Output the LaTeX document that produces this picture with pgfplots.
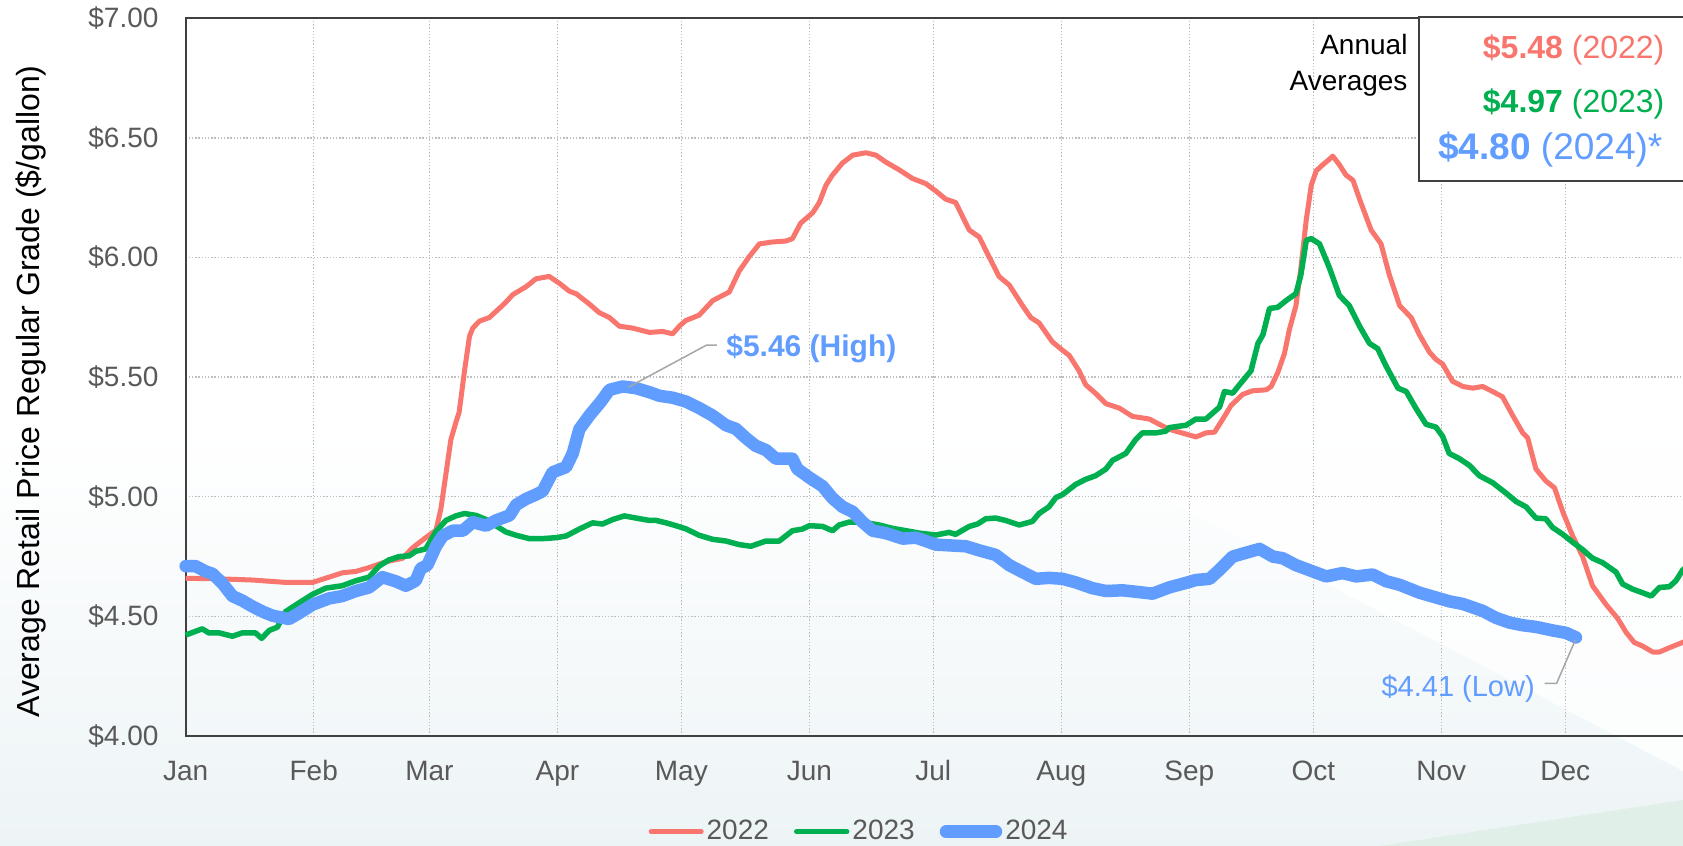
\documentclass[border=0pt]{standalone}
\usepackage{fontspec}
\setmainfont{Liberation Sans}
\usepackage{pgfplots}
\pgfplotsset{compat=1.18}
\definecolor{c22}{HTML}{F8766D}
\definecolor{c23}{HTML}{00B050}
\definecolor{c24}{HTML}{619CFF}
\definecolor{tickgray}{HTML}{595959}
\definecolor{axisgray}{HTML}{404040}
\definecolor{gridgray}{HTML}{BFBFBF}
\definecolor{leadgray}{HTML}{A6A6A6}
\definecolor{bgbot}{HTML}{EDF4F6}
\definecolor{bggreen}{HTML}{E0EFE8}
\begin{document}
\begin{tikzpicture}
\useasboundingbox (0,0) rectangle (841.5pt,423pt);
% background
\fill[white] (0,0) rectangle (841.5pt,423pt);
\shade[top color=white, bottom color=bgbot] (0,0) rectangle (841.5pt,208pt);
\fill[white, opacity=0.8] (550pt,190.5pt) -- (841.5pt,37.5pt) -- (841.5pt,213pt) -- (550pt,213pt) -- cycle;
\fill[bggreen] (690pt,0pt) -- (841.5pt,23pt) -- (841.5pt,0pt) -- cycle;
\begin{axis}[
  at={(92.85pt,55pt)}, anchor=south west,
  scale only axis, width=753.8pt, height=358.85pt,
  xmin=0, xmax=365, ymin=4, ymax=7,
  clip=false,
  axis line style={draw=axisgray, line width=1pt},
  major tick length=0pt,
  grid=major,
  grid style={draw=gridgray, line width=0.7pt, dash pattern=on 0.7pt off 0.9pt},
  xtick={0,31,59,90,120,151,181,212,243,273,304,334},
  xticklabels={Jan,Feb,Mar,Apr,May,Jun,Jul,Aug,Sep,Oct,Nov,Dec},
  ytick={4,4.5,5,5.5,6,6.5,7},
  yticklabels={\$4.00,\$4.50,\$5.00,\$5.50,\$6.00,\$6.50,\$7.00},
  tick label style={font=\fontsize{14}{16}\selectfont, text=tickgray, inner sep=0pt},
  xticklabel style={anchor=base, yshift=-22.35pt},
  yticklabel style={anchor=east, xshift=-13.4pt},
  every axis y label/.style={at={(axis description cs:-0.1026,0.48)}, rotate=90, anchor=center, font=\fontsize{16}{18}\selectfont},
  ylabel={Average Retail Price Regular Grade (\$/gallon)},
  legend columns=3,
  legend style={at={(axis description cs:0.447,-0.1333)}, anchor=center, draw=none, fill=none,
    font=\fontsize{14}{16}\selectfont, text=tickgray, inner sep=0pt,
    nodes={inner sep=1.5pt},
    /tikz/every even column/.append style={column sep=11pt}},
  legend cell align=left,
  legend image code/.code={\draw[line cap=round] (1pt,0pt) -- (26pt,0pt);},
]
\addplot[c22, line width=2.5pt, line join=round] coordinates {
(0,4.659)(8.1,4.657)(16.1,4.652)(24.2,4.642)(30.7,4.642)(34.7,4.664)(37.9,4.682)(41.2,4.688)(44.4,4.704)(48.4,4.728)(52.5,4.743)(54.9,4.786)(58.1,4.829)(60.6,4.86)(61.8,4.951)(63.0,5.095)(64.2,5.239)(65.4,5.310)(66.2,5.353)(67.5,5.526)(68.7,5.670)(69.5,5.705)(71.1,5.734)(73.5,5.749)(75.9,5.787)(77.5,5.813)(79.2,5.845)(82.4,5.878)(84.8,5.911)(88.0,5.921)(90.5,5.892)(92.9,5.859)(94.5,5.849)(97.7,5.806)(100.1,5.770)(102.6,5.749)(105.0,5.713)(108.2,5.705)(112.3,5.687)(115.5,5.691)(117.9,5.681)(119.5,5.713)(121.1,5.737)(124.3,5.759)(127.6,5.820)(131.6,5.856)(134.0,5.943)(136.4,6.003)(138.9,6.057)(142.1,6.065)(145.3,6.069)(146.9,6.079)(148.9,6.144)(151.8,6.187)(153.4,6.230)(155.0,6.302)(156.6,6.345)(159.0,6.395)(161.5,6.428)(164.7,6.438)(167.1,6.428)(169.5,6.399)(172.8,6.366)(176.0,6.330)(179.2,6.309)(181.6,6.278)(184.0,6.244)(186.4,6.230)(189.7,6.115)(192.1,6.086)(194.5,6.003)(196.9,5.921)(199.4,5.885)(202.6,5.799)(204.6,5.749)(206.6,5.727)(209.8,5.648)(212.3,5.612)(213.9,5.591)(216.3,5.526)(217.9,5.468)(220.3,5.432)(222.8,5.389)(226.0,5.371)(229.2,5.336)(233.3,5.325)(235.7,5.303)(238.1,5.282)(242.2,5.262)(244.6,5.250)(247.0,5.267)(249.1,5.270)(251.1,5.325)(253.1,5.382)(255.9,5.428)(258.3,5.443)(261.6,5.447)(262.8,5.461)(264.4,5.519)(266.0,5.598)(267.2,5.698)(268.8,5.799)(270.0,5.957)(271.3,6.158)(272.5,6.302)(273.7,6.362)(275.3,6.388)(276.5,6.405)(277.7,6.424)(279.3,6.388)(280.9,6.345)(282.6,6.323)(284.2,6.244)(287.0,6.115)(289.4,6.057)(291.4,5.928)(293.9,5.799)(296.7,5.749)(298.7,5.677)(301.1,5.605)(302.7,5.574)(304.3,5.555)(306.7,5.483)(309.2,5.461)(311.6,5.454)(314.0,5.461)(316.4,5.440)(318.8,5.418)(321.3,5.339)(323.7,5.267)(324.9,5.246)(326.9,5.116)(329.3,5.066)(331.4,5.037)(333.4,4.937)(335.8,4.836)(338.2,4.750)(340.6,4.628)(343.9,4.549)(346.7,4.491)(348.7,4.434)(350.7,4.391)(352.7,4.376)(355.2,4.351)(356.8,4.351)(359.2,4.369)(362.4,4.391)(365,4.41)
};
\addlegendentry{2022}
\addplot[c23, line width=2.75pt, line join=round] coordinates {
(0,4.422)(4.0,4.448)(5.6,4.431)(8.1,4.431)(11.3,4.417)(13.7,4.431)(16.9,4.431)(18.4,4.408)(20.2,4.441)(22.2,4.455)(24.2,4.520)(27.4,4.556)(30.7,4.592)(33.9,4.618)(37.9,4.628)(41.2,4.649)(44.4,4.664)(46.8,4.710)(49.2,4.736)(51.7,4.750)(54.1,4.753)(55.7,4.772)(58.1,4.782)(60.6,4.855)(63.0,4.901)(65.4,4.920)(67.5,4.930)(70.3,4.922)(72.7,4.905)(75.1,4.879)(77.5,4.853)(80.0,4.839)(83.2,4.825)(86.4,4.825)(89.7,4.829)(92.1,4.836)(95.3,4.865)(98.5,4.891)(100.9,4.886)(103.4,4.905)(106.2,4.920)(109.0,4.911)(112.3,4.901)(113.9,4.901)(116.3,4.891)(118.7,4.879)(121.1,4.866)(124.3,4.839)(127.6,4.822)(130.8,4.815)(134.0,4.800)(136.8,4.793)(140.5,4.815)(143.7,4.815)(146.9,4.858)(149.3,4.865)(151.0,4.879)(154.2,4.876)(156.6,4.858)(158.2,4.882)(160.6,4.894)(163.9,4.894)(167.9,4.882)(171.1,4.868)(174.4,4.858)(177.6,4.848)(181.6,4.840)(184.8,4.851)(186.4,4.843)(189.7,4.876)(191.7,4.886)(193.7,4.908)(196.1,4.911)(198.5,4.901)(201.8,4.882)(205.0,4.897)(206.6,4.930)(209.0,4.958)(210.7,4.997)(212.3,5.009)(215.5,5.052)(217.9,5.073)(220.3,5.088)(222.8,5.116)(224.4,5.152)(227.6,5.181)(230.0,5.239)(231.6,5.267)(234.9,5.267)(237.3,5.274)(238.1,5.289)(242.2,5.299)(244.6,5.325)(247.0,5.325)(250.3,5.375)(251.5,5.440)(253.5,5.433)(255.1,5.468)(257.9,5.526)(259.6,5.641)(260.8,5.677)(262.4,5.787)(264.4,5.792)(266.4,5.820)(268.8,5.849)(270.0,5.928)(271.3,6.072)(272.5,6.079)(274.5,6.057)(276.9,5.957)(279.3,5.842)(281.7,5.799)(284.2,5.713)(286.6,5.641)(288.6,5.619)(290.6,5.547)(293.5,5.454)(295.5,5.440)(297.9,5.368)(300.3,5.303)(302.7,5.291)(304.3,5.253)(305.9,5.181)(308.4,5.159)(310.8,5.131)(313.2,5.088)(316.4,5.059)(319.6,5.016)(322.1,4.980)(324.5,4.958)(326.9,4.911)(329.3,4.908)(330.9,4.872)(333.4,4.843)(335.8,4.810)(338.2,4.779)(340.6,4.743)(343.1,4.724)(346.3,4.685)(347.9,4.635)(350.3,4.614)(352.7,4.599)(354.8,4.585)(356.8,4.621)(359.2,4.624)(360.8,4.649)(362.4,4.693)(365,4.73)
};
\addlegendentry{2023}
\addplot[c24, line width=6.25pt, line join=round, line cap=round] coordinates {
(0,4.710)(2.4,4.710)(4.8,4.688)(6.5,4.678)(8.9,4.638)(11.3,4.585)(13.7,4.566)(16.1,4.542)(18.6,4.520)(21.0,4.503)(25.0,4.489)(27.4,4.513)(30.7,4.549)(34.7,4.575)(37.9,4.585)(41.2,4.606)(44.4,4.621)(47.6,4.664)(50.8,4.647)(53.3,4.628)(55.7,4.649)(56.9,4.700)(58.5,4.714)(60.6,4.793)(62.2,4.836)(64.6,4.858)(67.1,4.858)(69.5,4.894)(72.7,4.879)(75.1,4.901)(78.4,4.922)(80.0,4.966)(82.4,4.991)(84.8,5.009)(86.4,5.023)(88.8,5.102)(92.1,5.124)(93.7,5.181)(95.3,5.282)(97.7,5.339)(100.5,5.397)(102.6,5.447)(105.8,5.461)(109.0,5.454)(112.3,5.437)(114.7,5.422)(117.9,5.414)(121.1,5.398)(124.3,5.371)(127.6,5.339)(130.8,5.299)(133.2,5.284)(135.6,5.246)(138.0,5.213)(140.5,5.195)(142.9,5.159)(146.9,5.159)(148.1,5.116)(151.0,5.080)(154.2,5.044)(156.6,4.994)(159.0,4.958)(161.5,4.937)(163.9,4.894)(166.3,4.858)(169.5,4.848)(173.6,4.825)(176.8,4.829)(179.2,4.815)(181.6,4.800)(188.9,4.793)(192.1,4.776)(196.1,4.757)(199.4,4.714)(202.6,4.685)(205.8,4.657)(209.0,4.661)(212.3,4.657)(215.5,4.642)(219.5,4.618)(222.8,4.606)(226.8,4.609)(230.0,4.603)(234.1,4.595)(238.1,4.621)(242.2,4.640)(244.6,4.652)(247.9,4.657)(250.3,4.695)(253.5,4.750)(256.3,4.764)(260.0,4.782)(263.2,4.750)(265.6,4.743)(268.8,4.714)(272.1,4.693)(276.1,4.667)(280.1,4.681)(283.4,4.667)(287.4,4.675)(290.6,4.647)(293.9,4.632)(298.7,4.599)(302.7,4.579)(305.9,4.563)(309.2,4.552)(314.0,4.523)(317.2,4.494)(320.5,4.474)(323.7,4.463)(326.9,4.456)(331.0,4.441)(334.2,4.431)(336.6,4.412)
};
\addlegendentry{2024}
% High / Low annotations
\draw[leadgray, line width=0.75pt] (axis cs:107.2,5.458) -- (axis cs:126.1,5.634) -- (axis cs:128.6,5.634);
\node[anchor=base west, inner sep=0pt, text=c24, font=\bfseries\fontsize{15}{17}\selectfont] at (axis cs:130.8,5.588) {\$5.46 (High)};
\draw[leadgray, line width=0.75pt] (axis cs:336.4,4.40) -- (axis cs:331.9,4.220) -- (axis cs:329.0,4.220);
\node[anchor=base east, inner sep=0pt, text=c24, font=\fontsize{14.5}{17}\selectfont] at (axis cs:326.7,4.167) {\$4.41 (Low)};
% annual averages box
\draw[draw=axisgray, line width=1pt, fill=white] (axis cs:298.6,7.007) rectangle (axis cs:372,6.32);
\node[anchor=base east, inner sep=0pt, text=c22, font=\fontsize{16}{18}\selectfont] at (axis cs:358.1,6.830) {\textbf{\$5.48} (2022)};
\node[anchor=base east, inner sep=0pt, text=c23, font=\fontsize{16}{18}\selectfont] at (axis cs:358.1,6.606) {\textbf{\$4.97} (2023)};
\node[anchor=base east, inner sep=0pt, text=c24, font=\fontsize{18.5}{21}\selectfont] at (axis cs:357.6,6.408) {\textbf{\$4.80} (2024)*};
\node[anchor=base east, inner sep=0pt, font=\fontsize{14}{16}\selectfont] at (axis cs:295.9,6.847) {Annual};
\node[anchor=base east, inner sep=0pt, font=\fontsize{14}{16}\selectfont] at (axis cs:295.9,6.698) {Averages};
\end{axis}
\end{tikzpicture}
\end{document}
